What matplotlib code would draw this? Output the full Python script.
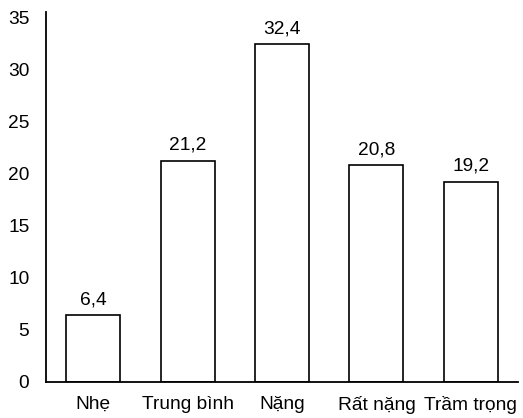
import matplotlib.pyplot as plt

categories = ['Nhẹ', 'Trung bình', 'Nặng', 'Rất nặng', 'Trầm trọng']
values = [6.4, 21.2, 32.4, 20.8, 19.2]
labels = ['6,4', '21,2', '32,4', '20,8', '19,2']
yticks = [0, 5, 10, 15, 20, 25, 30, 35]

plt.rcParams['font.family'] = ['Liberation Sans', 'DejaVu Sans']

fig = plt.figure(figsize=(5.23, 4.18), dpi=100)
ax = fig.add_axes([46 / 523, 36 / 418, 472 / 523, 370 / 418])

x = range(len(categories))
bars = ax.bar(x, values, width=0.57, color='white', edgecolor='black', linewidth=1.2)

for b, lab in zip(bars, labels):
    ax.annotate(lab, (b.get_x() + b.get_width() / 2, b.get_height()),
                xytext=(0, 8), textcoords='offset points',
                ha='center', va='baseline', fontsize=13.8)

ax.set_xlim(-0.5, 4.5)
ax.set_ylim(0, 35.5)
ax.set_yticks(yticks)
ax.set_xticks(list(x))
ax.set_xticklabels(categories)
ax.tick_params(axis='both', length=0, labelsize=13.8)
ax.tick_params(axis='x', pad=10)
ax.tick_params(axis='y', pad=12)

for s in ['top', 'right']:
    ax.spines[s].set_visible(False)
ax.spines['left'].set_linewidth(1.3)
ax.spines['bottom'].set_linewidth(1.3)

fig.savefig('out.png', dpi=100)
